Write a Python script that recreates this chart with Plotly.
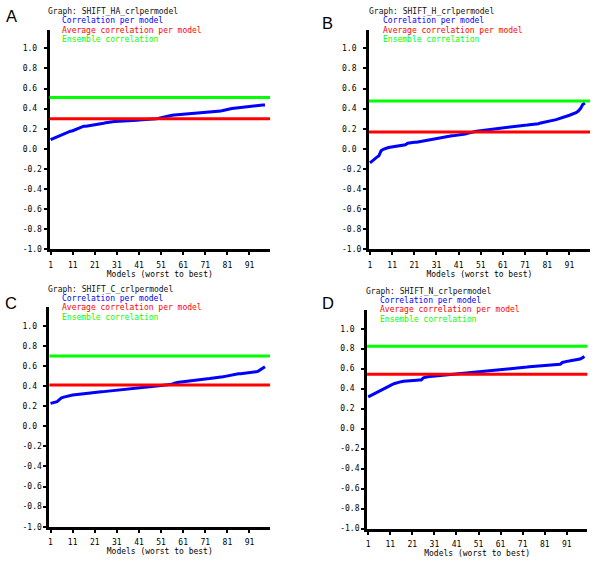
import plotly.graph_objects as go

W, H = 600, 561

panel_letters = ["A", "B", "C", "D"]
graph_names = ["SHIFT_HA_crlpermodel", "SHIFT_H_crlpermodel",
               "SHIFT_C_crlpermodel", "SHIFT_N_crlpermodel"]
legend_labels = ["Correlation per model", "Average correlation per model", "Ensemble correlation"]

corr_A = [0.09, 0.10, 0.11, 0.12, 0.13, 0.14, 0.15, 0.16, 0.17, 0.175,
          0.18, 0.19, 0.20, 0.21, 0.22, 0.225, 0.225, 0.228, 0.23, 0.233,
          0.238, 0.242, 0.246, 0.25, 0.255, 0.26, 0.265, 0.268, 0.27, 0.272,
          0.274, 0.276, 0.278, 0.28, 0.28, 0.281, 0.282, 0.283, 0.284, 0.285,
          0.286, 0.287, 0.288, 0.29, 0.292, 0.294, 0.296, 0.298, 0.30, 0.304,
          0.31, 0.316, 0.322, 0.327, 0.331, 0.334, 0.336, 0.338, 0.34, 0.341,
          0.342, 0.343, 0.344, 0.345, 0.346, 0.347, 0.349, 0.351, 0.354, 0.357,
          0.36, 0.362, 0.364, 0.366, 0.367, 0.368, 0.37, 0.375, 0.382, 0.388,
          0.393, 0.397, 0.40, 0.403, 0.406, 0.409, 0.412, 0.415, 0.418, 0.421,
          0.424, 0.427, 0.43, 0.432, 0.434, 0.435, 0.436, 0.437]

corr_B = [-0.14, -0.12, -0.10, -0.085, -0.07, -0.02, -0.005, 0.005, 0.01, 0.015,
          0.018, 0.02, 0.022, 0.025, 0.028, 0.032, 0.04, 0.055, 0.06, 0.062,
          0.064, 0.066, 0.07, 0.075, 0.08, 0.085, 0.09, 0.093, 0.097, 0.10,
          0.104, 0.108, 0.112, 0.116, 0.12, 0.123, 0.126, 0.129, 0.131, 0.133,
          0.135, 0.138, 0.142, 0.147, 0.153, 0.16, 0.165, 0.17, 0.174, 0.178,
          0.181, 0.184, 0.187, 0.19, 0.193, 0.196, 0.199, 0.202, 0.205, 0.208,
          0.211, 0.214, 0.217, 0.22, 0.222, 0.224, 0.226, 0.228, 0.23, 0.232,
          0.234, 0.236, 0.238, 0.24, 0.241, 0.242, 0.25, 0.256, 0.262, 0.268,
          0.272, 0.276, 0.28, 0.285, 0.29, 0.296, 0.302, 0.31, 0.318, 0.326,
          0.334, 0.342, 0.35, 0.36, 0.375, 0.40, 0.44, 0.455]

corr_C = [0.228, 0.232, 0.236, 0.245, 0.265, 0.283, 0.29, 0.297, 0.303, 0.308,
          0.311, 0.314, 0.317, 0.32, 0.323, 0.326, 0.328, 0.331, 0.333, 0.335,
          0.337, 0.339, 0.341, 0.343, 0.345, 0.347, 0.349, 0.351, 0.353, 0.355,
          0.357, 0.359, 0.361, 0.363, 0.365, 0.367, 0.369, 0.371, 0.374, 0.377,
          0.379, 0.382, 0.385, 0.387, 0.39, 0.393, 0.395, 0.398, 0.40, 0.403,
          0.405, 0.406, 0.407, 0.408, 0.41, 0.418, 0.428, 0.435, 0.438, 0.441,
          0.444, 0.448, 0.452, 0.456, 0.459, 0.461, 0.463, 0.465, 0.467, 0.469,
          0.471, 0.473, 0.475, 0.477, 0.478, 0.48, 0.484, 0.488, 0.493, 0.497,
          0.502, 0.507, 0.512, 0.516, 0.519, 0.522, 0.524, 0.526, 0.528, 0.53,
          0.532, 0.534, 0.537, 0.542, 0.55, 0.565, 0.58, 0.593]

corr_D = [0.318, 0.33, 0.343, 0.355, 0.366, 0.377, 0.388, 0.399, 0.41, 0.421,
          0.432, 0.443, 0.452, 0.46, 0.466, 0.47, 0.473, 0.476, 0.478, 0.48,
          0.481, 0.483, 0.484, 0.486, 0.487, 0.508, 0.515, 0.519, 0.521, 0.523,
          0.525, 0.527, 0.529, 0.531, 0.533, 0.535, 0.537, 0.539, 0.541, 0.543,
          0.545, 0.547, 0.549, 0.551, 0.553, 0.555, 0.557, 0.559, 0.561, 0.563,
          0.565, 0.567, 0.569, 0.571, 0.573, 0.575, 0.577, 0.579, 0.581, 0.583,
          0.585, 0.587, 0.589, 0.591, 0.593, 0.595, 0.597, 0.599, 0.601, 0.603,
          0.606, 0.61, 0.616, 0.619, 0.621, 0.622, 0.624, 0.625, 0.627, 0.628,
          0.629, 0.631, 0.633, 0.635, 0.637, 0.639, 0.641, 0.645, 0.662, 0.67,
          0.673, 0.676, 0.679, 0.682, 0.685, 0.69, 0.697, 0.708, 0.722]

avg_corr = [0.298, 0.168, 0.412, 0.543]
ensemble_corr = [0.510, 0.476, 0.699, 0.824]

x_tick_vals = [1, 11, 21, 31, 41, 51, 61, 71, 81, 91]
y_tick_vals = [-1.0, -0.8, -0.6, -0.4, -0.2, 0.0, 0.2, 0.4, 0.6, 0.8, 1.0]

series = [corr_A, corr_B, corr_C, corr_D]

# ---- layout geometry (pixels) ----
# plot boxes: left, right, top, bottom
boxes = [(48.6, 269.5, 30, 251.5), (368.5, 590.0, 30, 251.5),
         (48.5, 269.5, 310, 531.5), (366.7, 587.3, 313, 533.3)]
title_y0 = [11.5, 11.5, 291.7, 293.7]
title_x = [46, 367.3, 46.3, 364.7]
legend_x = [60, 381.3, 60, 378.3]
LINE_STEP = 9.4
letter_pos = [(10.5, 16), (327.5, 23), (10.5, 306), (327.5, 306)]

BLUE, RED, GREEN = "#0000ff", "#ff0000", "#00ff00"
MONO = "DejaVu Sans Mono"
FS = 8

def px(x):
    return x / W

def py(y):
    return 1 - y / H

fig = go.Figure()
annotations = []
shapes = []

y_tick_text = [f"{v:.1f}" if v < 0 else f"{v:.1f}\u00a0" for v in y_tick_vals]

for i in range(4):
    n = i + 1
    xa = "x" if n == 1 else f"x{n}"
    ya = "y" if n == 1 else f"y{n}"
    vals = series[i]
    models = list(range(1, len(vals) + 1))
    fig.add_trace(go.Scatter(x=models, y=vals, mode="lines",
                             line=dict(color=BLUE, width=3),
                             xaxis=xa, yaxis=ya, showlegend=False,
                             hoverinfo="skip"))
    for val, col in ((avg_corr[i], RED), (ensemble_corr[i], GREEN)):
        shapes.append(dict(type="line", xref=f"{xa} domain", yref=ya,
                           x0=0, x1=1, y0=val, y1=val,
                           line=dict(color=col, width=3), layer="above"))

    l, r, t, b = boxes[i]
    axis_common = dict(showline=True, linecolor="black", linewidth=3,
                       ticks="outside", ticklen=3, tickwidth=2, tickcolor="black",
                       showgrid=False, zeroline=False,
                       tickfont=dict(family=MONO, size=FS, color="black"))
    xkey = "xaxis" if n == 1 else f"xaxis{n}"
    ykey = "yaxis" if n == 1 else f"yaxis{n}"
    fig.update_layout(**{
        xkey: dict(domain=[px(l), px(r)], range=[0.5, 100.3], anchor=ya,
                   tickmode="array", tickvals=x_tick_vals,
                   ticktext=[str(v) for v in x_tick_vals],
                   ticklabelstandoff=3,
                   title=dict(text="Models (worst to best)", standoff=0,
                              font=dict(family=MONO, size=FS, color="black")),
                   **axis_common),
        ykey: dict(domain=[py(b), py(t)], range=[-1.0, 1.185], anchor=xa,
                   tickmode="array", tickvals=y_tick_vals, ticktext=y_tick_text,
                   **axis_common),
    })

    annotations.append(dict(text=f"Graph: {graph_names[i]}", x=px(title_x[i]),
                            y=py(title_y0[i]),
                            xref="paper", yref="paper", xanchor="left", yanchor="middle",
                            showarrow=False, borderpad=0,
                            font=dict(family=MONO, size=FS, color="#111111")))
    for k, (lab, col) in enumerate(zip(legend_labels, (BLUE, RED, GREEN))):
        ly = title_y0[i] + LINE_STEP * (k + 1)
        annotations.append(dict(text=lab, x=px(legend_x[i]), y=py(ly),
                                xref="paper", yref="paper", xanchor="left",
                                yanchor="middle", showarrow=False, borderpad=0,
                                font=dict(family=MONO, size=FS, color=col)))
    cx, cy = letter_pos[i]
    annotations.append(dict(text=panel_letters[i], x=px(cx), y=py(cy),
                            xref="paper", yref="paper", xanchor="center",
                            yanchor="middle", showarrow=False,
                            font=dict(family="Liberation Sans", size=16.5, color="black")))

fig.update_layout(width=W, height=H, margin=dict(l=0, r=0, t=0, b=0),
                  paper_bgcolor="white", plot_bgcolor="white",
                  showlegend=False, annotations=annotations, shapes=shapes)

fig.write_html("out.html",
               config={"displayModeBar": False, "staticPlot": True},
               post_script="document.body.style.margin='0px';"
                           "document.body.style.padding='0px';"
                           "document.documentElement.style.overflow='hidden';")
